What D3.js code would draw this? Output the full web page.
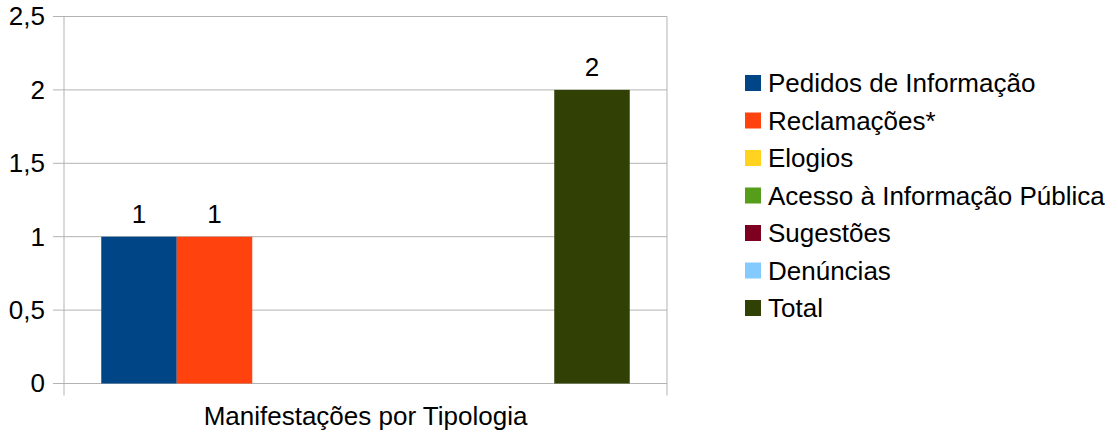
<!DOCTYPE html>
<html lang="pt">
<head>
  <meta charset="UTF-8">
  <title>Manifestações por Tipologia</title>
  <script src="https://d3js.org/d3.v7.min.js"></script>
  <style>
    body { margin: 0; background: #fff; font-family: "Liberation Sans", Arial, sans-serif; }
    svg text { fill: #000; }
  </style>
</head>
<body>
  <script>
    // dados
    const categories = ["Manifestações por Tipologia"];
    const seriesNames = ["Pedidos de Informação", "Reclamações*", "Elogios",
      "Acesso à Informação Pública", "Sugestões", "Denúncias", "Total"];
    const seriesValues = [1, 1, 0, 0, 0, 0, 2];
    const seriesColors = ["#004586", "#ff420e", "#ffd320", "#579d1c", "#7e0021", "#83caff", "#314004"];
    const yTicks = [0, 0.5, 1, 1.5, 2, 2.5];

    const width = 1118, height = 437;
    const plotLeft = 64, plotRight = 667, plotTop = 16.5, plotBottom = 383.5;
    const fontSize = 26;
    const fmt = v => String(v).replace(".", ",");

    const svg = d3.select("body").append("svg")
      .attr("width", width).attr("height", height);

    const x0 = d3.scaleBand().domain(categories).range([plotLeft, plotRight]).paddingOuter(0.0705).paddingInner(0);
    const x1 = d3.scaleBand().domain(seriesNames).range([0, x0.bandwidth()]);
    const y = d3.scaleLinear().domain([0, 2.5]).range([plotBottom, plotTop]);

    const rows = seriesNames.map((name, i) => ({ name, value: seriesValues[i], color: seriesColors[i] }));

    // grade horizontal
    svg.append("g").selectAll("line").data(yTicks).join("line")
      .attr("x1", plotLeft - 11).attr("x2", plotRight)
      .attr("y1", d => y(d)).attr("y2", d => y(d))
      .attr("stroke", "#b3b3b3").attr("stroke-width", 1);

    // eixo y
    const yAxis = svg.append("g").attr("transform", `translate(${plotLeft - 11},0)`)
      .call(d3.axisLeft(y).tickValues(yTicks).tickFormat(fmt).tickSize(0).tickPadding(8));
    yAxis.select(".domain").remove();
    yAxis.selectAll("text").attr("font-size", fontSize)
      .attr("font-family", "Liberation Sans, Arial, sans-serif").attr("fill", "#000");

    svg.append("line").attr("x1", plotLeft).attr("x2", plotLeft).attr("y1", plotTop).attr("y2", plotBottom + 12)
      .attr("stroke", "#b3b3b3");
    svg.append("line").attr("x1", plotRight).attr("x2", plotRight).attr("y1", plotTop).attr("y2", plotBottom + 12)
      .attr("stroke", "#b3b3b3");

    // barras
    const g = svg.append("g").attr("transform", `translate(${x0(categories[0])},0)`);
    g.selectAll("rect").data(rows).join("rect")
      .attr("x", d => x1(d.name))
      .attr("width", x1.bandwidth())
      .attr("y", d => y(d.value))
      .attr("height", d => y(0) - y(d.value))
      .attr("fill", d => d.color);

    // rótulos de valor
    g.selectAll("text").data(rows.filter(d => d.value > 0)).join("text")
      .attr("x", d => x1(d.name) + x1.bandwidth() / 2)
      .attr("y", d => y(d.value) - 14)
      .attr("text-anchor", "middle").attr("font-size", fontSize)
      .text(d => fmt(d.value));

    // rótulo da categoria
    svg.append("text")
      .attr("x", x0(categories[0]) + x0.bandwidth() / 2).attr("y", 425)
      .attr("text-anchor", "middle").attr("font-size", fontSize)
      .text(categories[0]);

    // legenda
    const legend = svg.append("g").attr("transform", "translate(745,83)");
    const item = legend.selectAll("g").data(rows).join("g")
      .attr("transform", (d, i) => `translate(0,${i * 37.5})`);
    item.append("rect").attr("x", 0).attr("y", -8).attr("width", 16).attr("height", 16)
      .attr("fill", d => d.color);
    item.append("text").attr("x", 23).attr("y", 0).attr("dy", "0.35em")
      .attr("font-size", fontSize).text(d => d.name);
  </script>
</body>
</html>
